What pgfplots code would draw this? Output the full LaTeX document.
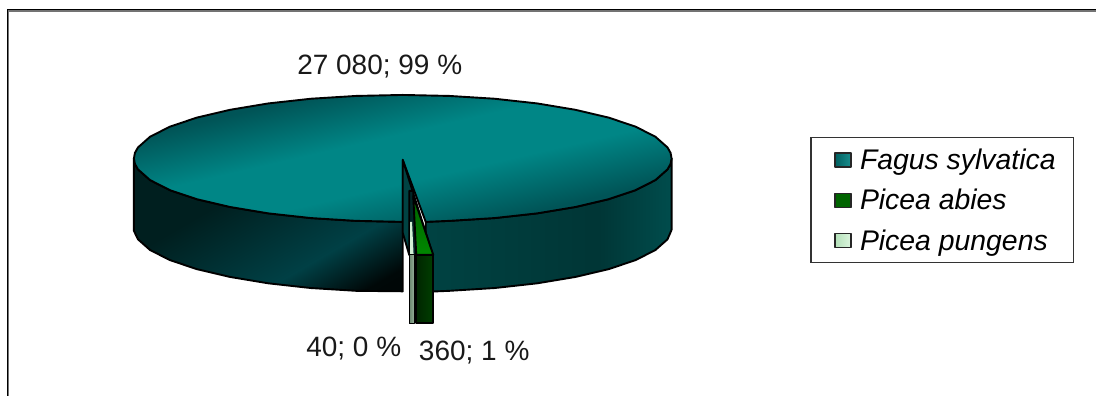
\documentclass[border=0pt]{standalone}
\usepackage{pgfplots}
\pgfplotsset{compat=1.18}
\usepackage{fontspec}
\setmainfont{Liberation Sans}
\definecolor{fagusKey}{RGB}{0,128,128}
\definecolor{abiesKey}{RGB}{0,100,0}
% rim right of the cut: darkest shortly before its far end
\pgfdeclarehorizontalshading{rimright}{100bp}{
  rgb(0bp)=(0,0.26,0.26);
  rgb(25bp)=(0,0.26,0.26);
  rgb(60bp)=(0,0.21,0.21);
  rgb(75bp)=(0,0.30,0.30);
  rgb(100bp)=(0,0.30,0.30)}
% rim left of the cut: lightest band between two dark corners
\pgfdeclareverticalshading{rimleft}{100bp}{
  rgb(0bp)=(0,0.02,0.02);
  rgb(21bp)=(0,0.03,0.03);
  rgb(35bp)=(0,0.25,0.27);
  rgb(62bp)=(0,0.12,0.12);
  rgb(100bp)=(0,0.12,0.12)}
% top face: broad bright band, darker towards both long edges
\pgfdeclareverticalshading{topface}{100bp}{
  rgb(0bp)=(0,0.33,0.34);
  rgb(30bp)=(0,0.33,0.34);
  rgb(44bp)=(0,0.525,0.525);
  rgb(56bp)=(0,0.525,0.525);
  rgb(70bp)=(0,0.33,0.34);
  rgb(100bp)=(0,0.33,0.34)}
\tikzset{
  outline/.style={draw=black, line width=1.9pt, line join=round, line cap=round},
  keybox/.style={draw=black!85, line width=1.4pt, line join=round},
}
\newcommand{\keycell}{\path[draw=none, fill=none] (-14pt,-20pt) rectangle (23pt,20.4pt);}
\begin{document}
\begin{tikzpicture}
\begin{axis}[
  width=1097pt, height=396pt, scale only axis,
  xmin=0, xmax=1097, ymin=0, ymax=396, y dir=reverse,
  hide axis, clip=false,
  legend cell align=left,
  legend style={
    at={(811/1097,1-137/396)}, anchor=north west,
    draw=black!80, line width=1.1pt, fill=white,
    inner xsep=10pt, inner ysep=2pt,
    font=\fontsize{28.4}{30}\selectfont\itshape,
    cells={anchor=west},
  },
  legend image code/.code={},
]
% page extent
\path (axis cs:0,0) rectangle (axis cs:1097,396);

% chart frame: open on the right and at the bottom
\addplot[forget plot, color=black!55, line width=1.3pt] coordinates {(8.6,396)(8.6,11)(1097,11)};
\addplot[forget plot, color=black, line width=1.4pt] coordinates {(7.5,396)(7.5,9.6)(1097,9.6)};

% rim of the large slice, left of the cut
\addplot[forget plot, outline, shading=rimleft, shading angle=30]
coordinates {(134,158.5)(135,164)(138.1,169.5)(150.2,180.2)(170,190.25)(196.9,199.3)(230.1,207.1)(268.5,213.5)(311,218.2)(356.3,221)(403,222)
  (403,291.5)(356.3,291)(311,288.2)(268.5,283.5)(230.1,277.1)(196.9,269.3)(170,260.25)(150.2,250.2)(138.1,239.5)(134,231)(134,158.5)};

% rim of the large slice, right of the cut
\addplot[forget plot, outline, shading=rimright]
coordinates {(426,222)(449.7,221)(495,218.2)(537.5,213.5)(575.9,207.1)(609.1,199.3)(636,190.25)(655.8,180.2)(667.9,169.5)(671,164)(672,158.5)
  (672,230)(667.9,239.5)(655.8,250.2)(636,260.25)(609.1,269.3)(575.9,277.1)(537.5,283.5)(495,288.2)(449.7,291)(426,292)(426,222)};

% top face of the large slice
\addplot[forget plot, outline, shading=topface, shading angle=13]
coordinates {(403,160)(403,222)(356.3,221)(311,218.2)(268.5,213.5)(230.1,207.1)(196.9,199.3)(170,190.25)(150.2,180.2)(138.1,169.5)(135,164)(134,158.5)
  (135,153)(138.1,147.5)(150.2,136.8)(170,126.75)(196.9,117.7)(230.1,109.9)(268.5,103.5)(311,98.8)(356.3,96)(403,95)
  (449.7,96)(495,98.8)(537.5,103.5)(575.9,109.9)(609.1,117.7)(636,126.75)(655.8,136.8)(667.9,147.5)(671,153)(672,158.5)
  (671,164)(667.9,169.5)(655.8,180.2)(636,190.25)(609.1,199.3)(575.9,207.1)(537.5,213.5)(495,218.2)(449.7,221)(426,222)(403,160)};

% cut face of the large slice
\addplot[forget plot, outline, fill=black!48!fagusKey]
coordinates {(403,160)(403,233)(409.5,255)(433,255)(403,160)};

% pulled-out Picea pungens slice
\addplot[forget plot, outline, fill=black!70!fagusKey]
coordinates {(409.5,191)(413.5,191)(417,255)(409.5,255)(409.5,191)};
\addplot[forget plot, draw=none, fill={rgb,255:red,208;green,240;blue,212}]
coordinates {(410.5,222)(412.3,222)(413.8,254)(410.5,254)(410.5,222)};
\addplot[forget plot, outline, line width=1.3pt, left color={rgb,255:red,105;green,135;blue,110}, right color={rgb,255:red,150;green,175;blue,152}]
coordinates {(409.5,255)(414.5,255)(414.5,323.5)(409.5,323.5)(409.5,255)};

% pulled-out Picea abies slice
\addplot[forget plot, outline, top color=abiesKey, bottom color={rgb,255:red,0;green,135;blue,0}]
coordinates {(413.5,196)(433.5,255)(416.5,255)(413.5,196)};
\addplot[forget plot, outline, left color={rgb,255:red,0;green,38;blue,0}, right color={rgb,255:red,0;green,62;blue,0}]
coordinates {(416.5,255)(433.5,255)(433.5,323.5)(416.5,323.5)(416.5,255)};

% value labels
\node[font=\fontsize{28}{30}\selectfont, text=black!90] at (axis cs:380,66.5) {27 080; 99 \%};
\node[font=\fontsize{28}{30}\selectfont, text=black!90] at (axis cs:354,349) {40; 0 \%};
\node[font=\fontsize{28}{30}\selectfont, text=black!90] at (axis cs:474.5,352.5) {360; 1 \%};

% legend
\addlegendimage{legend image code/.code={\keycell \draw[keybox, left color=black!25!fagusKey, right color=fagusKey!90] (0pt,-7pt) rectangle (16pt,7pt);}}
\addlegendentry{Fagus sylvatica\hspace*{6pt}}
\addlegendimage{legend image code/.code={\keycell \draw[keybox, fill=abiesKey] (0pt,-7pt) rectangle (16pt,7pt);}}
\addlegendentry{Picea abies}
\addlegendimage{legend image code/.code={\keycell \draw[keybox, left color={rgb,255:red,180;green,225;blue,185}, right color={rgb,255:red,220;green,245;blue,222}] (0pt,-7pt) rectangle (16pt,7pt);}}
\addlegendentry{Picea pungens}
\end{axis}
\end{tikzpicture}
\end{document}
